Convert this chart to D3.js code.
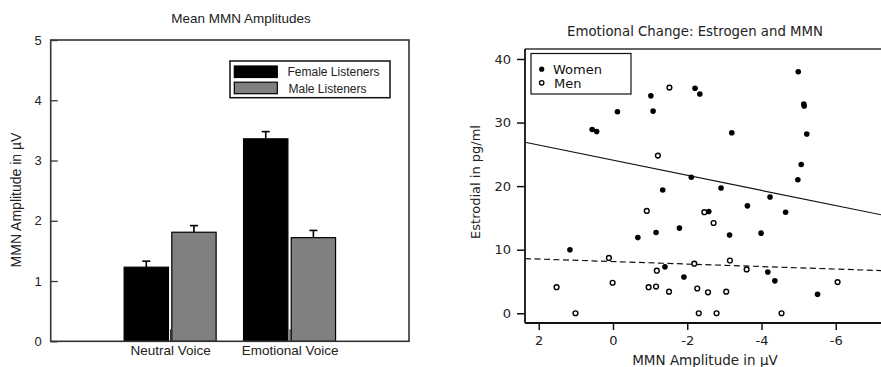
<!DOCTYPE html>
<html>
<head>
<meta charset="utf-8">
<script src="https://cdn.jsdelivr.net/npm/d3@7"></script>
<style>
  html, body { margin: 0; padding: 0; background: #fff; overflow: hidden; }
  svg { display: block; }
</style>
</head>
<body>
<svg id="chart" width="881" height="367"></svg>
<script>
// ---- data: bar chart ----
const voices = ['Neutral Voice', 'Emotional Voice'];
const listeners = ['Female Listeners', 'Male Listeners'];
const femaleMeans = [1.23, 3.36];
const maleMeans = [1.81, 1.72];
const femaleErr = [0.10, 0.12];
const maleErr = [0.11, 0.12];
const barTicks = [0, 1, 2, 3, 4, 5];

// ---- data: scatter (MMN amplitude, estradiol) ----
const womenMMN = [-4.99, -2.21, -2.34, -1.02, -1.08, -0.12, 0.56, 0.44, -5.14, -5.15, -3.20,
  -5.22, -5.07, -4.98, -2.11, -2.91, -1.34, -4.23, -3.62, -2.58, -4.65, -1.16, -1.79, -0.67,
  -3.99, -3.14, 1.16, -1.40, -1.91, -4.17, -4.36, -5.51];
const womenE2 = [38.0, 35.4, 34.5, 34.2, 31.8, 31.7, 28.9, 28.6, 32.9, 32.6, 28.4,
  28.2, 23.4, 21.0, 21.4, 19.7, 19.4, 18.3, 16.9, 16.0, 15.9, 12.7, 13.4, 11.9,
  12.6, 12.3, 10.0, 7.3, 5.7, 6.5, 5.1, 3.0];
const menMMN = [-1.52, -1.21, -0.91, -2.46, -2.71, 0.11, -2.19, -3.15, -1.18, -3.60, 1.52,
  0.01, -0.96, -1.16, -1.51, -2.27, -2.56, -3.05, -6.05, 1.01, -2.31, -2.79, -4.54];
const menE2 = [35.5, 24.8, 16.1, 15.9, 14.2, 8.7, 7.8, 8.3, 6.7, 6.9, 4.1,
  4.8, 4.1, 4.2, 3.4, 3.9, 3.3, 3.4, 4.9, 0, 0, 0, 0];
// fitted lines: [x, y] at both ends
const womenFit = [[2.37, 26.9], [-7.3, 15.4]];
const menFit = [[2.37, 8.6], [-7.3, 6.7]];
const scatterXTicks = [2, 0, -2, -4, -6];
const scatterYTicks = [0, 10, 20, 30, 40];

const svg = d3.select('#chart');

// ================= Bar chart =================
const barFont = '"Liberation Sans", Arial, sans-serif';
const bx = { left: 50.7, right: 409, top: 40, bottom: 341.3 };

const y = d3.scaleLinear().domain([0, 5]).range([bx.bottom, bx.top]);
const x0 = d3.scalePoint().domain(voices).range([bx.left, bx.right]).padding(1);
const x1 = d3.scaleBand().domain(listeners).range([-46, 46]).paddingInner(0.07);
const fills = d3.scaleOrdinal().domain(listeners).range(['#000000', '#808080']);

const bars = svg.append('g');

const rows = voices.flatMap((v, i) => [
  { voice: v, who: listeners[0], value: femaleMeans[i], err: femaleErr[i] },
  { voice: v, who: listeners[1], value: maleMeans[i], err: maleErr[i] },
]);

// error bars drawn first so the bars cover their base
const errG = bars.selectAll('.err').data(rows).enter().append('g')
  .attr('transform', (d) => `translate(${x0(d.voice) + x1(d.who) + x1.bandwidth() / 2},0)`);
errG.append('line')
  .attr('y1', (d) => y(d.value)).attr('y2', (d) => y(d.value + d.err))
  .attr('stroke', '#000').attr('stroke-width', 1.6);
errG.append('line')
  .attr('x1', -4).attr('x2', 4)
  .attr('y1', (d) => y(d.value + d.err)).attr('y2', (d) => y(d.value + d.err))
  .attr('stroke', '#000').attr('stroke-width', 1.6);

bars.selectAll('.bar').data(rows).enter().append('rect')
  .attr('x', (d) => x0(d.voice) + x1(d.who))
  .attr('width', x1.bandwidth())
  .attr('y', (d) => y(d.value))
  .attr('height', (d) => y(0) - y(d.value))
  .attr('fill', (d) => fills(d.who))
  .attr('stroke', '#000').attr('stroke-width', 1.2);

// axes
const yAxisBar = svg.append('g')
  .attr('transform', `translate(${bx.left},0)`)
  .call(d3.axisLeft(y).tickValues(barTicks).tickSize(-7).tickPadding(9).tickFormat(d3.format('d')));
yAxisBar.select('.domain').remove();

const xAxisBar = svg.append('g')
  .attr('transform', `translate(0,${bx.bottom})`)
  .call(d3.axisBottom(x0).tickSize(-12).tickPadding(4));
xAxisBar.select('.domain').remove();

[yAxisBar, xAxisBar].forEach((a) => {
  a.selectAll('line').attr('stroke', '#333').attr('stroke-width', 1.3);
  a.selectAll('text').attr('fill', '#222').style('font-family', barFont);
});
yAxisBar.selectAll('text').style('font-size', '13px');
xAxisBar.selectAll('text').style('font-size', '13.5px');

svg.append('rect')
  .attr('x', bx.left).attr('y', bx.top)
  .attr('width', bx.right - bx.left).attr('height', bx.bottom - bx.top)
  .attr('fill', 'none').attr('stroke', '#333').attr('stroke-width', 1.6);

svg.append('text')
  .attr('x', 241).attr('y', 23)
  .attr('text-anchor', 'middle')
  .style('font-family', barFont).style('font-size', '13.5px').attr('fill', '#222')
  .text('Mean MMN Amplitudes');

svg.append('text')
  .attr('transform', 'translate(21,200) rotate(-90)')
  .attr('text-anchor', 'middle')
  .style('font-family', barFont).style('font-size', '14px').attr('fill', '#222')
  .text('MMN Amplitude in \u00b5V');

// legend
const lg = svg.append('g');
lg.append('rect').attr('x', 230).attr('y', 61).attr('width', 160).attr('height', 36.7)
  .attr('fill', '#fff').attr('stroke', '#111').attr('stroke-width', 1.5);
listeners.forEach((name, i) => {
  lg.append('rect').attr('x', 234.3).attr('y', 66 + i * 16.2).attr('width', 43).attr('height', 11.5)
    .attr('fill', fills(name)).attr('stroke', '#000').attr('stroke-width', 1.2);
  lg.append('text').attr('x', 287.5 + i).attr('y', 76 + i * 16.6)
    .style('font-family', barFont).style('font-size', '12px').attr('fill', '#222')
    .text(name);
});

// ================= Scatter plot =================
const scFont = '"DejaVu Sans", Verdana, sans-serif';
const sx = { left: 525, right: 884, top: 49, bottom: 323 };

const xs = d3.scaleLinear().domain([2.37, -7.3]).range([sx.left, sx.right]);
const ys = d3.scaleLinear().domain([-1.53, 41.57]).range([sx.bottom, sx.top]);

const sc = svg.append('g');

// top border
sc.append('line').attr('x1', sx.left).attr('x2', sx.right).attr('y1', sx.top).attr('y2', sx.top)
  .attr('stroke', '#666').attr('stroke-width', 2.2);

const line = d3.line().x((d) => xs(d[0])).y((d) => ys(d[1]));
sc.append('path').attr('d', line(womenFit)).attr('fill', 'none')
  .attr('stroke', '#111').attr('stroke-width', 1.2);
sc.append('path').attr('d', line(menFit)).attr('fill', 'none')
  .attr('stroke', '#111').attr('stroke-width', 1.2).attr('stroke-dasharray', '6,3.5');

sc.selectAll('.w').data(womenMMN).enter().append('circle')
  .attr('cx', (d) => xs(d)).attr('cy', (d, i) => ys(womenE2[i]))
  .attr('r', 2.8).attr('fill', '#000');
sc.selectAll('.m').data(menMMN).enter().append('circle')
  .attr('cx', (d) => xs(d)).attr('cy', (d, i) => ys(menE2[i]))
  .attr('r', 2.4).attr('fill', '#fff').attr('stroke', '#000').attr('stroke-width', 1.4);

const yAxisSc = sc.append('g')
  .attr('transform', `translate(${sx.left},0)`)
  .call(d3.axisLeft(ys).tickValues(scatterYTicks).tickSize(8).tickPadding(6).tickFormat((d) => String(d)));
yAxisSc.select('.domain').attr('d', `M0,${sx.top}V${sx.bottom}`);

const xAxisSc = sc.append('g')
  .attr('transform', `translate(0,${sx.bottom})`)
  .call(d3.axisBottom(xs).tickValues(scatterXTicks).tickSize(7).tickPadding(6).tickFormat((d) => String(d)));
xAxisSc.select('.domain').attr('d', `M${sx.left},0H${sx.right}`);

[yAxisSc, xAxisSc].forEach((a) => {
  a.select('.domain').attr('stroke', '#111').attr('stroke-width', 1.8);
  a.selectAll('.tick line').attr('stroke', '#111').attr('stroke-width', 1.5);
  a.selectAll('text').attr('fill', '#222').style('font-family', scFont).style('font-size', '13px');
});

sc.append('text')
  .attr('x', 695).attr('y', 35.5).attr('text-anchor', 'middle')
  .style('font-family', scFont).style('font-size', '13.3px').attr('fill', '#222')
  .text('Emotional Change: Estrogen and MMN');

sc.append('text')
  .attr('x', 705).attr('y', 364.5).attr('text-anchor', 'middle')
  .style('font-family', scFont).style('font-size', '13.5px').attr('fill', '#222')
  .text('MMN Amplitude in \u00b5V');

sc.append('text')
  .attr('transform', 'translate(480,182) rotate(-90)')
  .attr('text-anchor', 'middle')
  .style('font-family', scFont).style('font-size', '13px').attr('fill', '#222')
  .text('Estrodial in pg/ml');

// legend
const sl = sc.append('g');
sl.append('rect').attr('x', 531).attr('y', 53.5).attr('width', 100).attr('height', 40.5)
  .attr('fill', '#fff').attr('stroke', '#111').attr('stroke-width', 1.2);
sl.append('circle').attr('cx', 541.7).attr('cy', 69.2).attr('r', 2.6).attr('fill', '#000');
sl.append('circle').attr('cx', 541.7).attr('cy', 82.8).attr('r', 2.2)
  .attr('fill', '#fff').attr('stroke', '#000').attr('stroke-width', 1.3);
sl.append('text').attr('x', 553).attr('y', 73.8)
  .style('font-family', scFont).style('font-size', '13px').attr('fill', '#111').text('Women');
sl.append('text').attr('x', 554).attr('y', 88)
  .style('font-family', scFont).style('font-size', '13px').attr('fill', '#111').text('Men');
</script>
</body>
</html>
